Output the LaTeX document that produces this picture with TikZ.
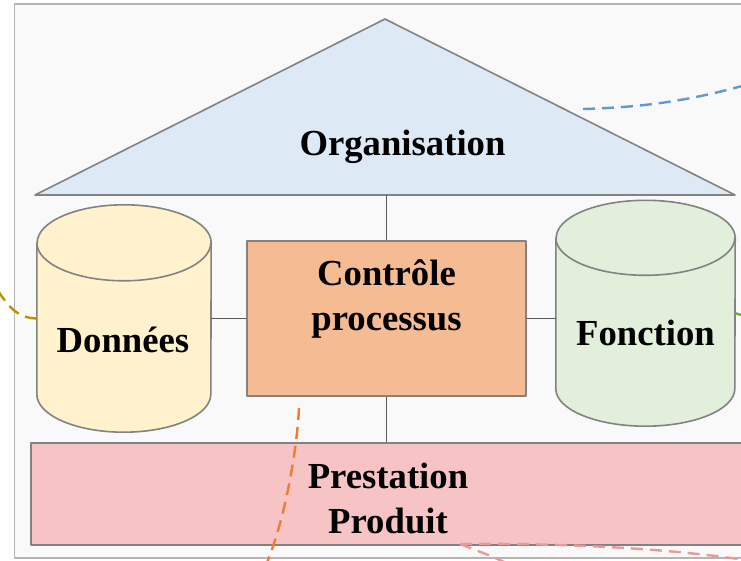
\documentclass[tikz,border=0pt]{standalone}
\usepackage{fontspec}
\setmainfont{Liberation Serif}
\definecolor{panelgray}{HTML}{F9F9F9}
\definecolor{panelline}{HTML}{B5B5B5}
\definecolor{shapeline}{HTML}{828282}
\definecolor{roofblue}{HTML}{DEE9F6}
\definecolor{datayellow}{HTML}{FFF2CC}
\definecolor{funcgreen}{HTML}{E2EFDA}
\definecolor{ctrlorange}{HTML}{F5BB93}
\definecolor{prestpink}{HTML}{F6C4C4}
\definecolor{linkblue}{HTML}{5B9BD5}
\definecolor{linkgold}{HTML}{BF9000}
\definecolor{linkgreen}{HTML}{70AD47}
\definecolor{linkorange}{HTML}{ED7D31}
\definecolor{linkpink}{HTML}{EA9999}
\begin{document}
\begin{tikzpicture}[x=1pt, y=1pt, line join=round,
		outline/.style={draw=shapeline, line width=1.6pt},
		box/.style={outline, rectangle, inner sep=0pt},
		body/.style={rectangle, inner sep=0pt},
		lbl/.style={font=\fontsize{36.7}{45}\selectfont\bfseries, align=center, inner sep=0pt},
		link/.style={draw=black!65, line width=1pt},
		far/.style={line width=2.4pt, dash pattern=on 12pt off 7pt}]
		\useasboundingbox (0,0) rectangle (741,560);
		\clip (0,0) rectangle (741,560);
		\draw[fill=panelgray, draw=panelline, line width=1.5pt] (14.5,2) rectangle (760,556);
		% roof
		\coordinate (rooftop) at (385,541);
		\coordinate (roofleft) at (35,365);
		\coordinate (roofright) at (735,365);
		\coordinate (roofbase) at (386.5,365);
		\draw[outline, fill=roofblue] (roofleft) -- (rooftop) -- (roofright) -- cycle;
		% cylinders
		\node[body, minimum width=174, minimum height=151] (donnees) at (124,241.5) {};
		\draw[outline, fill=datayellow] (donnees.north west) -- (donnees.south west)
			arc[start angle=180, end angle=360, x radius=87, y radius=38] -- (donnees.north east)
			arc[start angle=0, end angle=180, x radius=87, y radius=38] -- cycle;
		\draw[outline] (donnees.north west) arc[start angle=180, end angle=360, x radius=87, y radius=38];
		\node[body, minimum width=179, minimum height=150.5] (fonction) at (645.5,246.75) {};
		\draw[outline, fill=funcgreen] (fonction.north west) -- (fonction.south west)
			arc[start angle=180, end angle=360, x radius=89.5, y radius=37.5] -- (fonction.north east)
			arc[start angle=0, end angle=180, x radius=89.5, y radius=37.5] -- cycle;
		\draw[outline] (fonction.north west) arc[start angle=180, end angle=360, x radius=89.5, y radius=37.5];
		% boxes
		\node[box, fill=ctrlorange, minimum width=279, minimum height=155] (ctrl) at (386.5,241.5) {};
		\node[box, fill=prestpink, minimum width=716, minimum height=102] (prest) at (389,66) {};
		% links
		\draw[link] (roofbase) -- (ctrl.north);
		\draw[link] (ctrl.south) -- (ctrl.south |- prest.north);
		\draw[link] (ctrl.west) -- (ctrl.west -| donnees.east);
		\draw[link] (ctrl.east) -- (ctrl.east -| fonction.west);
		% texts
		\node[lbl] (orgatext) at (402.5,413.5) {Organisation};
		\node[lbl] (donneestext) at (123,220.5) {Données};
		\node[lbl] (fonctiontext) at (645.5,227) {Fonction};
		\node[lbl] (ctrltext) at (386.5,261) {Contrôle\\processus};
		\node[lbl] (presttext) at (388,62) {Prestation\\Produit};
		% links to the outside
		\coordinate (bluestart) at (583,451);
		\coordinate (orangestart) at (299,152);
		\coordinate (pinkstart) at (460,16);
		\draw[far, linkblue] (bluestart) .. controls (660,453) and (710,464) .. (770,482);
		\draw[far, linkgold] (donnees.west) .. controls (15,242) and (6,256) .. (-10,282);
		\draw[far, linkgreen] (fonction.east) .. controls (745,244) .. (770,238);
		\draw[far, linkorange] (orangestart) .. controls (297,110) and (285,40) .. (266,-5);
		\draw[far, linkpink] (pinkstart) .. controls (480,8) and (495,3) .. (512,-6);
		\draw[far, linkpink] (pinkstart) .. controls (560,17) and (680,12) .. (770,-4);
	\end{tikzpicture}
\end{document}
